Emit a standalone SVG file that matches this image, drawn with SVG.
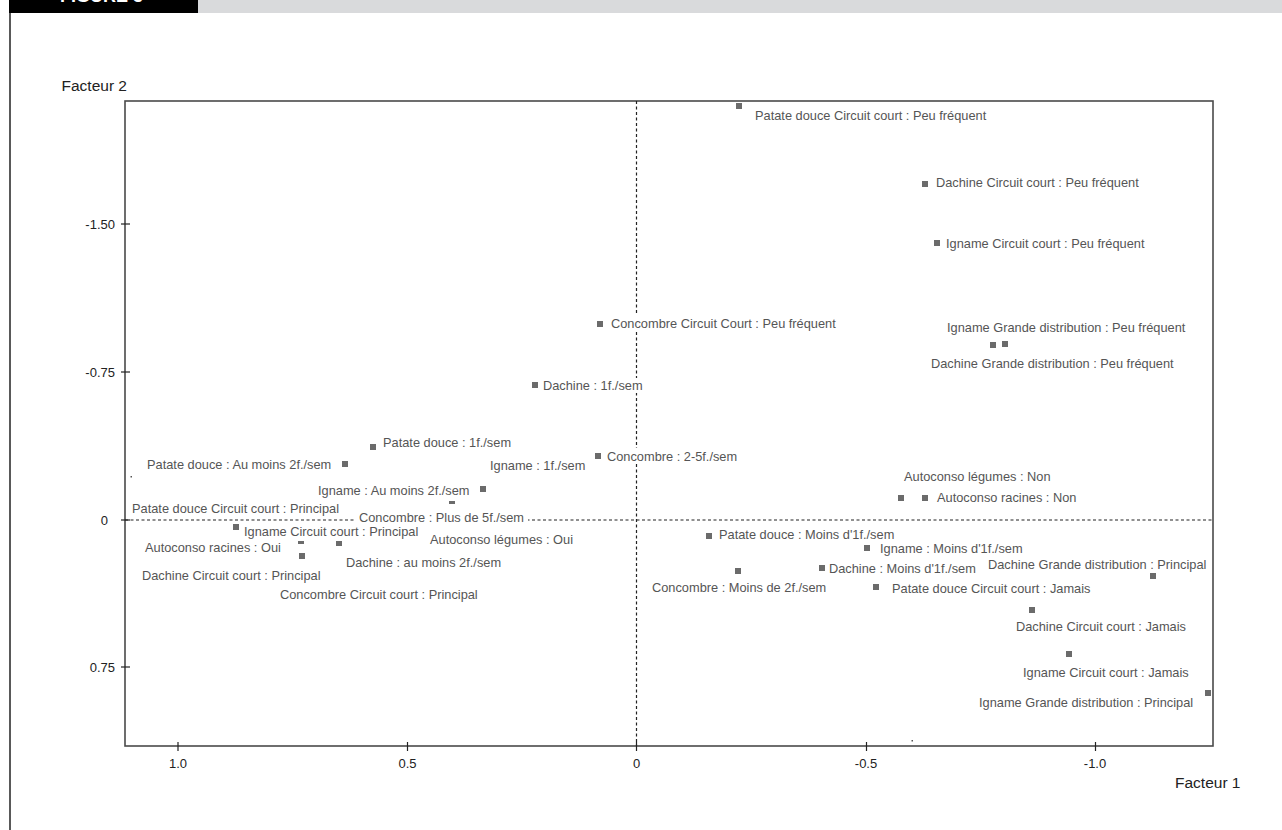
<svg xmlns="http://www.w3.org/2000/svg" width="1282" height="830" viewBox="0 0 1282 830">
<style>
.lbl{font-family:"Liberation Sans",Arial,sans-serif;font-size:12.8px;fill:#555}
.tick{font-family:"Liberation Sans",Arial,sans-serif;font-size:13px;fill:#222}
.ttl{font-family:"Liberation Sans",Arial,sans-serif;font-size:15.5px;fill:#222}
.mk{fill:#6b6b6b}
.bg{fill:#fff}
</style>
<rect width="1282" height="830" fill="#fff"/>
<g id="header">
<rect x="198" y="0" width="1084" height="13" fill="#d9dadc"/>
<rect x="9" y="0" width="189" height="13" fill="#000"/>
<text x="60" y="2" style="font-family:'Liberation Sans',Arial,sans-serif;font-size:18px;font-weight:bold;fill:#fff">FIGURE 3</text>
</g>
<line x1="10" y1="13" x2="10" y2="830" stroke="#222" stroke-width="1.5"/>
<g id="axes">
<rect x="125" y="101" width="1088" height="645" fill="none" stroke="#4a4a4a" stroke-width="1.6"/>
<g stroke="#222" stroke-width="1.2" fill="none" stroke-dasharray="3 2.5">
<line x1="125" y1="520" x2="1213" y2="520"/>
<line x1="636.5" y1="101" x2="636.5" y2="746"/>
</g>
<g stroke="#222" stroke-width="1.2">
<line x1="121" y1="224" x2="130" y2="224"/>
<line x1="121" y1="372" x2="130" y2="372"/>
<line x1="121" y1="520" x2="130" y2="520"/>
<line x1="121" y1="667" x2="130" y2="667"/>
<line x1="178" y1="742" x2="178" y2="751"/>
<line x1="407.5" y1="742" x2="407.5" y2="751"/>
<line x1="636.5" y1="742" x2="636.5" y2="751"/>
<line x1="866.5" y1="742" x2="866.5" y2="751"/>
<line x1="1095.5" y1="742" x2="1095.5" y2="751"/>
</g>
<g class="tick" text-anchor="end">
<text x="115" y="228.5">-1.50</text>
<text x="115" y="376.5">-0.75</text>
<text x="108" y="524.5">0</text>
<text x="115" y="671.5">0.75</text>
</g>
<g class="tick" text-anchor="middle">
<text x="178" y="767.5">1.0</text>
<text x="407.5" y="767.5">0.5</text>
<text x="636.5" y="767.5">0</text>
<text x="866" y="767.5">-0.5</text>
<text x="1095" y="767.5">-1.0</text>
</g>
<text class="ttl" x="61.5" y="90.5">Facteur 2</text>
<text class="ttl" x="1175" y="787.5">Facteur 1</text>
<rect x="130.5" y="476" width="1.5" height="1.5" fill="#555"/>
<rect x="911.5" y="740" width="1.5" height="1.5" fill="#555"/>
</g>
<g id="markers">
<rect class="mk" x="736" y="103" width="6" height="6"/>
<rect class="mk" x="922" y="181" width="6" height="6"/>
<rect class="mk" x="934" y="240" width="6" height="6"/>
<rect class="mk" x="990" y="342" width="6" height="6"/>
<rect class="mk" x="1002" y="341" width="6" height="6"/>
<rect class="mk" x="597" y="321" width="6" height="6"/>
<rect class="mk" x="532" y="382" width="6" height="6"/>
<rect class="mk" x="370" y="444" width="6" height="6"/>
<rect class="mk" x="342" y="461" width="6" height="6"/>
<rect class="mk" x="595" y="453" width="6" height="6"/>
<rect class="mk" x="480" y="486" width="6" height="6"/>
<rect class="mk" x="449" y="501" width="6" height="3"/>
<rect class="mk" x="233" y="524" width="6" height="6"/>
<rect class="mk" x="298" y="541" width="6" height="3"/>
<rect class="mk" x="336" y="541" width="6" height="5"/>
<rect class="mk" x="299" y="553" width="6" height="6"/>
<rect class="mk" x="898" y="495" width="6" height="6"/>
<rect class="mk" x="922" y="495" width="6" height="6"/>
<rect class="mk" x="706" y="533" width="6" height="6"/>
<rect class="mk" x="864" y="545" width="6" height="6"/>
<rect class="mk" x="735" y="568" width="6" height="6"/>
<rect class="mk" x="819" y="565" width="6" height="6"/>
<rect class="mk" x="1150" y="573" width="6" height="6"/>
<rect class="mk" x="873" y="584" width="6" height="6"/>
<rect class="mk" x="1029" y="607" width="6" height="6"/>
<rect class="mk" x="1066" y="651" width="6" height="6"/>
<rect class="mk" x="1205" y="690" width="6" height="6"/>
</g>
<g id="labels">
<rect class="bg" x="608" y="315" width="232" height="15"/>
<rect class="bg" x="541" y="378" width="105" height="15"/>
<rect class="bg" x="605" y="448" width="140" height="15"/>
<rect class="bg" x="356" y="510" width="172" height="15"/>
<text class="lbl" x="755" y="120">Patate douce Circuit court : Peu fréquent</text>
<text class="lbl" x="936" y="187">Dachine Circuit court : Peu fréquent</text>
<text class="lbl" x="946" y="248">Igname Circuit court : Peu fréquent</text>
<text class="lbl" x="947" y="332">Igname Grande distribution : Peu fréquent</text>
<text class="lbl" x="931" y="368">Dachine Grande distribution : Peu fréquent</text>
<text class="lbl" x="611" y="328">Concombre Circuit Court : Peu fréquent</text>
<text class="lbl" x="543" y="390">Dachine : 1f./sem</text>
<text class="lbl" x="383" y="447">Patate douce : 1f./sem</text>
<text class="lbl" x="147" y="469">Patate douce : Au moins 2f./sem</text>
<text class="lbl" x="607" y="460.5">Concombre : 2-5f./sem</text>
<text class="lbl" x="490" y="470">Igname : 1f./sem</text>
<text class="lbl" x="318" y="494.5">Igname : Au moins 2f./sem</text>
<text class="lbl" x="132" y="512.5">Patate douce Circuit court : Principal</text>
<text class="lbl" x="359" y="522">Concombre : Plus de 5f./sem</text>
<text class="lbl" x="244" y="535.5">Igname Circuit court : Principal</text>
<text class="lbl" x="430" y="544">Autoconso légumes : Oui</text>
<text class="lbl" x="145" y="551.5">Autoconso racines : Oui</text>
<text class="lbl" x="346" y="567">Dachine : au moins 2f./sem</text>
<text class="lbl" x="142" y="579.5">Dachine Circuit court : Principal</text>
<text class="lbl" x="280" y="598.5">Concombre Circuit court : Principal</text>
<text class="lbl" x="904" y="481">Autoconso légumes : Non</text>
<text class="lbl" x="937" y="501.5">Autoconso racines : Non</text>
<text class="lbl" x="719" y="538.5">Patate douce : Moins d'1f./sem</text>
<text class="lbl" x="880" y="553">Igname : Moins d'1f./sem</text>
<text class="lbl" x="829" y="573">Dachine : Moins d'1f./sem</text>
<text class="lbl" x="988" y="568.5">Dachine Grande distribution : Principal</text>
<text class="lbl" x="652" y="592">Concombre : Moins de 2f./sem</text>
<text class="lbl" x="892" y="593">Patate douce Circuit court : Jamais</text>
<text class="lbl" x="1016" y="631">Dachine Circuit court : Jamais</text>
<text class="lbl" x="1023" y="676.5">Igname Circuit court : Jamais</text>
<text class="lbl" x="979" y="707">Igname Grande distribution : Principal</text>
</g>
</svg>
